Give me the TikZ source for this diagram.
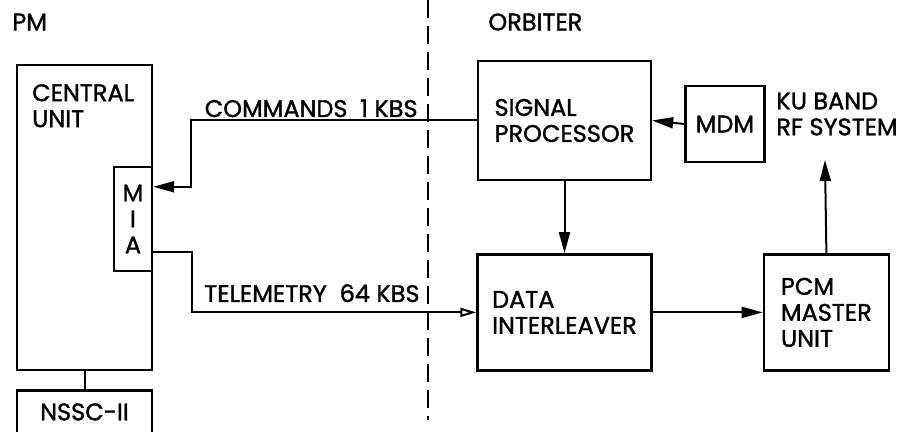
\documentclass[tikz,border=0pt]{standalone}
\usepackage{fontspec}
\setmainfont{Poppins}[FakeBold=1.4]
\usetikzlibrary{positioning, arrows.meta, calc}
\tikzset{
  blk/.style    = {rectangle, draw=black, line width=1.2pt, align=left,
                   font=\fontsize{12}{13}\selectfont, inner sep=0pt},
  lab/.style    = {font=\fontsize{12}{13}\selectfont, align=left, inner sep=0pt},
  link/.style   = {line width=1pt, -{Triangle[length=10.5pt, width=5.5pt]}},
  olink/.style  = {line width=1pt, -{Triangle[open, length=8pt, width=4.5pt]}},
  wire/.style   = {line width=1pt},
  divider/.style = {line width=1.2pt, dash pattern=on 9pt off 4pt},
}

\begin{document}
\begin{tikzpicture}[x=0.5pt, y=-0.5pt]
\useasboundingbox (0,0) rectangle (902,432);

% PM side
\node (pm) [lab, anchor=west] at (12,22) {PM};
\node (cu) [blk, minimum width=67.5pt, minimum height=152.5pt] at (84.5,217.5) {};
\node (cutext) [lab, below right=10pt and 8pt of cu.north west] {CENTRAL\\UNIT};
\node (mia) [blk, align=center, minimum width=19pt, minimum height=52pt,
  below left=51pt and 0pt of cu.north east] {M\\I\\A};
\node (nssc) [blk, minimum width=67.5pt, minimum height=21.5pt, below=9pt of cu] {NSSC-II};

% Interface line
\coordinate (divtop) at (428,0);
\coordinate (divbot) at (428,420);
\draw [divider] (divtop) -- (divbot);

% Orbiter side
\node (orb) [lab, anchor=west] at (488,22) {ORBITER};
\node (sp) [blk, minimum width=86.5pt, minimum height=59.5pt] at (564.5,120.5) {SIGNAL\\PROCESSOR};
\node (mdm) [blk, minimum width=39.5pt, minimum height=38pt, right=16pt of sp, yshift=-1.75pt] {MDM};
\node (ku) [lab, anchor=west] at (776,114) {KU BAND\\RF SYSTEM};
\node (di) [blk, minimum width=87pt, minimum height=58pt, below=36pt of sp] {DATA\\INTERLEAVER};
\node (pcm) [blk, minimum width=62.5pt, minimum height=58pt, right=55pt of di] {PCM\\MASTER\\UNIT};
\coordinate (rftip) at (825,160);

% Links across the interface
\coordinate (miacmd) at ($(mia.north east)+(0,21)$);
\coordinate (miatlm) at ($(mia.south east)+(0,-20)$);
\draw [link] (sp.west) -| ($(miacmd)+(38,0)$) -- (miacmd);
\draw [olink] (miatlm) -- ++(39,0) |- (di.west);
\node (cmdlbl) [lab, anchor=base east] at (418,117) {COMMANDS\ \ 1 KBS};
\node (tlmlbl) [lab, anchor=base east] at (420,302) {TELEMETRY\ \ 64 KBS};

% Orbiter links
\draw [link] (mdm.west) -- (sp.east);
\draw [link] (sp.south) -- (di.north);
\draw [link] (di.east) -- (pcm.west);
\draw [link] (pcm.north) -- (rftip);
\draw [wire] (cu.south) -- (nssc.north);

\end{tikzpicture}
\end{document}
